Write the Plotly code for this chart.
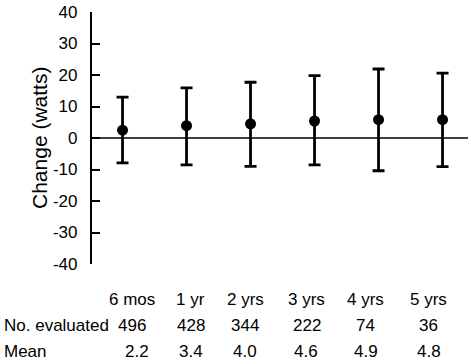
import plotly.graph_objects as go

# ---- data ----
periods = ["6 mos", "1 yr", "2 yrs", "3 yrs", "4 yrs", "5 yrs"]
change_point = [2.5, 3.9, 4.5, 5.4, 5.8, 5.8]
err_upper = [13.0, 15.9, 17.7, 19.8, 21.9, 20.6]
err_lower = [-7.9, -8.5, -9.0, -8.5, -10.4, -9.1]
n_evaluated = [496, 428, 344, 222, 74, 36]
mean_change = ["2.2", "3.4", "4.0", "4.6", "4.9", "4.8"]
y_ticks = [40, 30, 20, 10, 0, -10, -20, -30, -40]
y_tick_text = ["40", "30", "20", "10", "0", "-10", "-20", "-30", "-40"]

# ---- layout constants ----
W, H = 471, 364
L, R, T, B = 92, 3, 8, 100
plot_w = W - L - R
plot_h = H - T - B
FONT = "Liberation Sans, Arial, Helvetica, sans-serif"
FS = 17
col_px = [132, 190.5, 245, 306.5, 365.5, 428.5]   # table column centres (pixels)
mean_col_px = [137, 190.5, 245, 306, 365.5, 428.5]

x_idx = list(range(len(periods)))
fig = go.Figure()
fig.add_trace(go.Scatter(
    x=x_idx, y=change_point, mode="markers",
    marker=dict(color="black", size=11),
    error_y=dict(type="data", symmetric=False,
                 array=[u - p for u, p in zip(err_upper, change_point)],
                 arrayminus=[p - l for l, p in zip(err_lower, change_point)],
                 color="black", thickness=2.8, width=6),
    showlegend=False, hoverinfo="skip"))

fig.add_shape(type="line", xref="paper", yref="y", x0=0, x1=1, y0=0, y1=0,
              line=dict(color="black", width=1.6), layer="below")

ann = []
def px_to_paper_x(px):
    return (px - L) / plot_w
def px_to_paper_y(py):
    return (H - B - py) / plot_h

ann.append(dict(text="Change (watts)", textangle=-90, x=px_to_paper_x(39), y=px_to_paper_y(136),
                xref="paper", yref="paper", showarrow=False, xanchor="center", yanchor="middle",
                font=dict(size=21, color="black", family=FONT)))
rows = [("", periods, col_px, 300),
        ("No. evaluated", [str(v) for v in n_evaluated], col_px, 326),
        ("Mean", mean_change, mean_col_px, 353)]
for label, vals, cols, py in rows:
    if label:
        ann.append(dict(text=label, x=px_to_paper_x(2), y=px_to_paper_y(py), xref="paper", yref="paper",
                        showarrow=False, xanchor="left", yanchor="middle",
                        font=dict(size=FS, color="black", family=FONT)))
    for cx, v in zip(cols, vals):
        ann.append(dict(text=v, x=px_to_paper_x(cx), y=px_to_paper_y(py), xref="paper", yref="paper",
                        showarrow=False, xanchor="center", yanchor="middle",
                        font=dict(size=FS, color="black", family=FONT)))

fig.update_layout(
    width=W, height=H, margin=dict(l=L, r=R, t=T, b=B),
    paper_bgcolor="white", plot_bgcolor="white",
    annotations=ann,
    xaxis=dict(range=[-0.477, 5.398], showgrid=False, zeroline=False, showline=False,
               showticklabels=False, ticks=""),
    yaxis=dict(range=[-40, 40], tickvals=y_ticks, ticktext=y_tick_text,
               showgrid=False, zeroline=False,
               showline=True, linecolor="black", linewidth=2.2,
               ticks="inside", ticklen=8, tickwidth=2.2, tickcolor="black",
               ticklabelstandoff=9, ticklabeloverflow="allow",
               tickfont=dict(size=FS, color="black", family=FONT)),
)
fig.write_html("out.html", config={"displayModeBar": False},
               post_script="document.body.style.margin='0';document.body.style.padding='0';")
